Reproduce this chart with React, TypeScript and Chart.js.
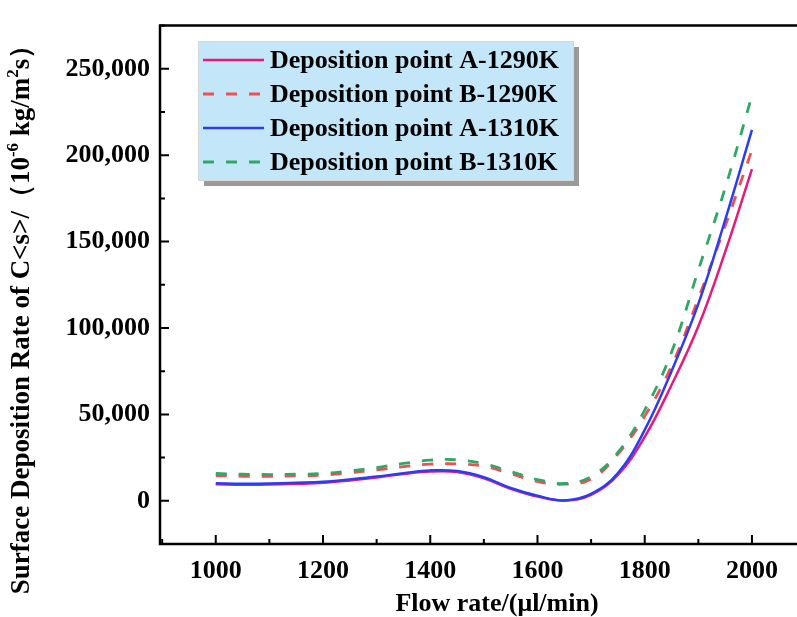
import React, { useEffect, useRef } from "react";
import { Chart, registerables } from "chart.js";
Chart.register(...registerables);

const flowRates = [1000, 1050, 1100, 1150, 1200, 1250, 1300, 1350, 1400, 1450, 1500, 1550, 1600, 1650, 1700, 1750, 1800, 1850, 1900, 1950, 2000];
const rateA1290 = [9600, 9300, 9400, 9800, 10400, 11800, 13500, 15500, 16900, 16600, 13000, 7000, 2500, 200, 3500, 15000, 37000, 67000, 101000, 144000, 192000];
const rateB1290 = [14600, 14200, 14200, 14400, 14800, 16200, 17900, 19800, 21200, 21400, 20000, 15700, 11200, 9600, 12500, 27000, 49000, 78000, 117000, 159000, 203000];
const rateA1310 = [10200, 9900, 10000, 10400, 11000, 12400, 14000, 16000, 17600, 17200, 13600, 7400, 2900, 200, 4000, 16000, 41000, 75000, 114000, 162500, 214600];
const rateB1310 = [15800, 15400, 15200, 15400, 15800, 17300, 19200, 21600, 23500, 23700, 21500, 16900, 12300, 10000, 14000, 28000, 52500, 86000, 133500, 181000, 234500];

const seriesLabels = ["Deposition point A-1290K", "Deposition point B-1290K", "Deposition point A-1310K", "Deposition point B-1310K"];
const xTickValues = [1000, 1200, 1400, 1600, 1800, 2000];
const xMinorValues = [900, 1100, 1300, 1500, 1700, 1900];
const yTickValues = [0, 50000, 100000, 150000, 200000, 250000];
const yMinorValues = [-25000, 25000, 75000, 125000, 175000, 225000, 275000];
const xTitle = "Flow rate/(\u03bcl/min)";
const yTitleParts = [
  { t: "Surface Deposition Rate of C<s>/\uff0810", sup: false },
  { t: "-6", sup: true },
  { t: " kg/m", sup: false },
  { t: "2", sup: true },
  { t: "s\uff09", sup: false },
];

const FONT = '"Liberation Serif", "Times New Roman", serif';

const decorPlugin = {
  id: "decor",
  afterDraw(chart: any) {
    const { ctx, chartArea } = chart;
    const { left, right, top, bottom } = chartArea;
    const x = chart.scales.x;
    const y = chart.scales.y;
    ctx.save();
    // frame
    ctx.strokeStyle = "#000";
    ctx.lineWidth = 2.5;
    ctx.beginPath();
    ctx.moveTo(right + 10, top);
    ctx.lineTo(left, top);
    ctx.lineTo(left, bottom);
    ctx.lineTo(right + 10, bottom);
    ctx.stroke();
    // ticks (inward)
    ctx.lineWidth = 2;
    ctx.beginPath();
    xTickValues.forEach((v) => {
      const p = x.getPixelForValue(v);
      ctx.moveTo(p, bottom);
      ctx.lineTo(p, bottom - 9);
    });
    xMinorValues.forEach((v) => {
      const p = x.getPixelForValue(v);
      ctx.moveTo(p, bottom);
      ctx.lineTo(p, bottom - 5);
    });
    yTickValues.forEach((v) => {
      const p = y.getPixelForValue(v);
      ctx.moveTo(left, p);
      ctx.lineTo(left + 9, p);
    });
    yMinorValues.forEach((v) => {
      const p = y.getPixelForValue(v);
      ctx.moveTo(left, p);
      ctx.lineTo(left + 5, p);
    });
    ctx.stroke();

    // x title
    ctx.fillStyle = "#000";
    ctx.font = `bold 26px ${FONT}`;
    ctx.textAlign = "center";
    ctx.textBaseline = "middle";
    ctx.fillText(xTitle, 497, 604);

    // y title with superscripts
    ctx.save();
    ctx.translate(22, 313);
    ctx.rotate(-Math.PI / 2);
    ctx.textAlign = "left";
    ctx.textBaseline = "middle";
    const big = `bold 27px ${FONT}`;
    const small = `bold 17px ${FONT}`;
    let total = 0;
    yTitleParts.forEach((s) => {
      ctx.font = s.sup ? small : big;
      total += ctx.measureText(s.t).width;
    });
    let cx = -total / 2;
    yTitleParts.forEach((s) => {
      ctx.font = s.sup ? small : big;
      ctx.fillText(s.t, cx, s.sup ? -8 : 0);
      cx += ctx.measureText(s.t).width;
    });
    ctx.restore();

    // legend
    const bx = 198, by = 41, bw = 375, bh = 139;
    ctx.fillStyle = "rgba(120,120,120,0.75)";
    ctx.fillRect(bx + 6, by + 6, bw, bh);
    ctx.fillStyle = "#C3E6F8";
    ctx.fillRect(bx, by, bw, bh);
    ctx.strokeStyle = "#D8D8D8";
    ctx.lineWidth = 1;
    ctx.strokeRect(bx + 0.5, by + 0.5, bw, bh);
    const rows = [60, 94, 128, 162];
    chart.data.datasets.forEach((ds: any, i: number) => {
      const ry = rows[i];
      ctx.save();
      ctx.strokeStyle = ds.borderColor;
      ctx.lineWidth = ds.borderWidth;
      ctx.setLineDash(ds.borderDash || []);
      ctx.beginPath();
      ctx.moveTo(203, ry);
      ctx.lineTo(264, ry);
      ctx.stroke();
      ctx.restore();
      ctx.fillStyle = "#000";
      ctx.font = `bold 26px ${FONT}`;
      ctx.textAlign = "left";
      ctx.textBaseline = "middle";
      ctx.fillText(ds.label, 270, ry + 1);
    });
    ctx.restore();
  },
};

export default function App() {
  const ref = useRef<HTMLCanvasElement | null>(null);
  useEffect(() => {
    if (!ref.current) return;
    const mk = (label: string, data: number[], color: string, dash: number[] | undefined, order: number) => ({
      label,
      data: flowRates.map((f, i) => ({ x: f, y: data[i] })),
      borderColor: color,
      backgroundColor: color,
      borderWidth: dash ? 2.8 : 2.5,
      borderDash: dash,
      pointRadius: 0,
      tension: 0.4,
      fill: false,
      order,
    });
    const chart = new Chart(ref.current, {
      type: "line",
      data: {
        datasets: [
          mk(seriesLabels[0], rateA1290, "#E8197E", undefined, 3),
          mk(seriesLabels[1], rateB1290, "#EF4F52", [11, 12], 2),
          mk(seriesLabels[2], rateA1310, "#2A3CF4", undefined, 1),
          mk(seriesLabels[3], rateB1310, "#2FA865", [11, 12], 0),
        ] as any,
      },
      options: {
        animation: false,
        responsive: false,
        layout: { padding: { left: 0, right: 0, top: 23, bottom: 0 } },
        plugins: { legend: { display: false }, tooltip: { enabled: false } },
        scales: {
          x: {
            type: "linear",
            min: 896,
            max: 2084,
            grid: { display: false, drawTicks: false },
            border: { display: false },
            afterBuildTicks: (s: any) => {
              s.ticks = xTickValues.map((v) => ({ value: v }));
            },
            afterFit: (s: any) => {
              s.height = 73;
            },
            ticks: {
              color: "#000",
              padding: 12,
              maxRotation: 0,
              font: { family: FONT, size: 26, weight: "bold" },
              callback: (v: any) => String(v),
            },
          },
          y: {
            type: "linear",
            min: -25000,
            max: 275000,
            grid: { display: false, drawTicks: false },
            border: { display: false },
            afterBuildTicks: (s: any) => {
              s.ticks = yTickValues.map((v) => ({ value: v }));
            },
            afterFit: (s: any) => {
              s.width = 160;
            },
            ticks: {
              color: "#000",
              padding: 10,
              font: { family: FONT, size: 26, weight: "bold" },
              callback: (v: any) => Number(v).toLocaleString("en-US"),
            },
          },
        },
      },
      plugins: [decorPlugin],
    } as any);
    return () => chart.destroy();
  }, []);
  return (
    <div style={{ position: "fixed", left: 0, top: 0, width: 797, height: 617, background: "#fff" }}>
      <canvas ref={ref} width={797} height={617} />
    </div>
  );
}
